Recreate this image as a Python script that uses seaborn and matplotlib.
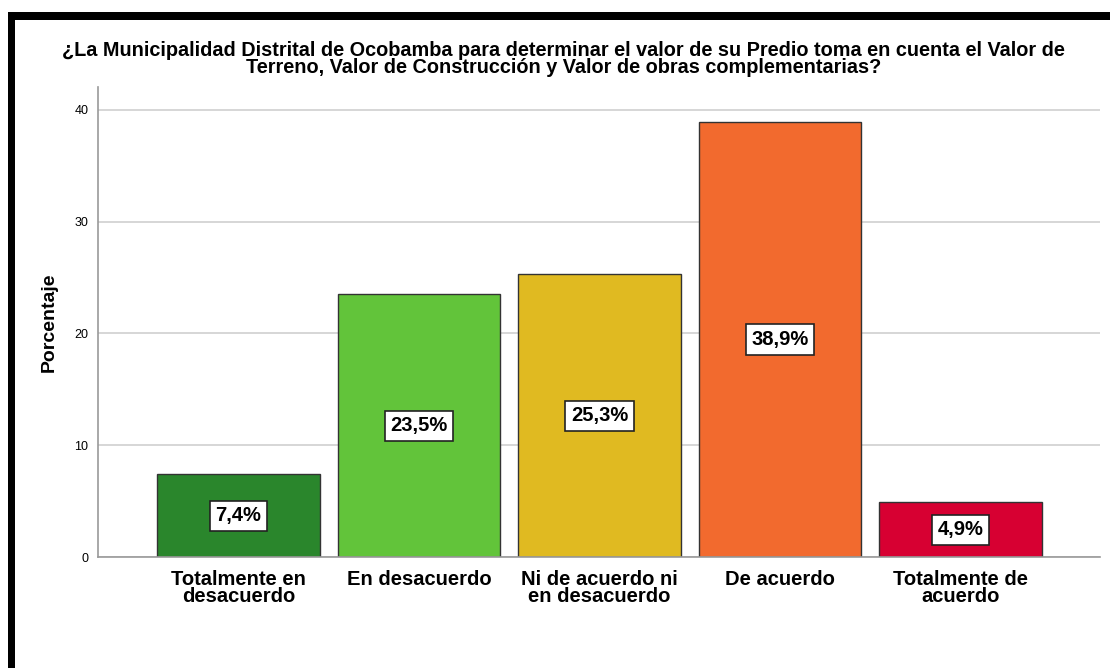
import matplotlib
matplotlib.use("Agg")
import matplotlib.pyplot as plt
import seaborn as sns
import pandas as pd
from matplotlib.patches import Rectangle

categorias = ["Totalmente en\ndesacuerdo", "En desacuerdo", "Ni de acuerdo ni\nen desacuerdo",
              "De acuerdo", "Totalmente de\nacuerdo"]
porcentajes = [7.4, 23.5, 25.3, 38.9, 4.9]
colores = ["#2a862c", "#62c43a", "#e0ba21", "#f26a2e", "#d70032"]
ticks_y = [0, 10, 20, 30, 40]

sns.set_theme(style="white")
plt.rcParams['font.family'] = ['Liberation Sans', 'DejaVu Sans']
plt.rcParams['text.color'] = 'black'

df = pd.DataFrame({"cat": categorias, "pct": porcentajes})

fig = plt.figure(figsize=(11.1, 6.68), dpi=100)
ax = fig.add_axes([0.0883, 0.166, 0.9027, 0.704])

sns.barplot(data=df, x="cat", y="pct", hue="cat", palette=colores, legend=False,
            width=0.9, edgecolor="#333333", linewidth=1.0, saturation=1, ax=ax)

ax.set_xlim(-0.778, 4.772)
ax.set_ylim(0, 42.05)
ax.set_yticks(ticks_y)
ax.set_yticklabels([str(t) for t in ticks_y], fontsize=9, color="black")
ax.yaxis.grid(True, color="#d0d0d0", linewidth=1.2)
ax.set_axisbelow(True)
ax.tick_params(axis="y", length=0, pad=7)
ax.tick_params(axis="x", length=0, pad=9)
for lbl in ax.get_xticklabels():
    lbl.set_fontsize(14.5)
    lbl.set_fontweight("bold")
    lbl.set_color("black")
    lbl.set_linespacing(0.9)
for s in ["top", "right"]:
    ax.spines[s].set_visible(False)
for s in ["left", "bottom"]:
    ax.spines[s].set_color("#999999")
    ax.spines[s].set_linewidth(1.2)

ax.set_xlabel("")
ax.set_ylabel("Porcentaje", fontsize=14, fontweight="bold", color="black", labelpad=12)

for cont in ax.containers:
    ax.bar_label(cont, labels=[f"{v:.1f}%".replace(".", ",") for v in cont.datavalues],
                 label_type="center", fontsize=14.5, fontweight="bold", color="black",
                 bbox=dict(boxstyle="square,pad=0.28", facecolor="white",
                           edgecolor="#222222", linewidth=1.2))

fig.text(0.508, 0.912,
         "¿La Municipalidad Distrital de Ocobamba para determinar el valor de su Predio toma en cuenta el Valor de\n"
         "Terreno, Valor de Construcción y Valor de obras complementarias?",
         ha="center", va="center", fontsize=14.3, fontweight="bold", linespacing=0.9, color="black")

# marco negro superior e izquierdo
fig.patches.append(Rectangle((8 / 1110, 1 - 20 / 668), 1, 8 / 668, transform=fig.transFigure,
                             facecolor="black", edgecolor="none"))
fig.patches.append(Rectangle((8 / 1110, 0), 7 / 1110, 1 - 12 / 668, transform=fig.transFigure,
                             facecolor="black", edgecolor="none"))

fig.savefig("out.png", dpi=100)
